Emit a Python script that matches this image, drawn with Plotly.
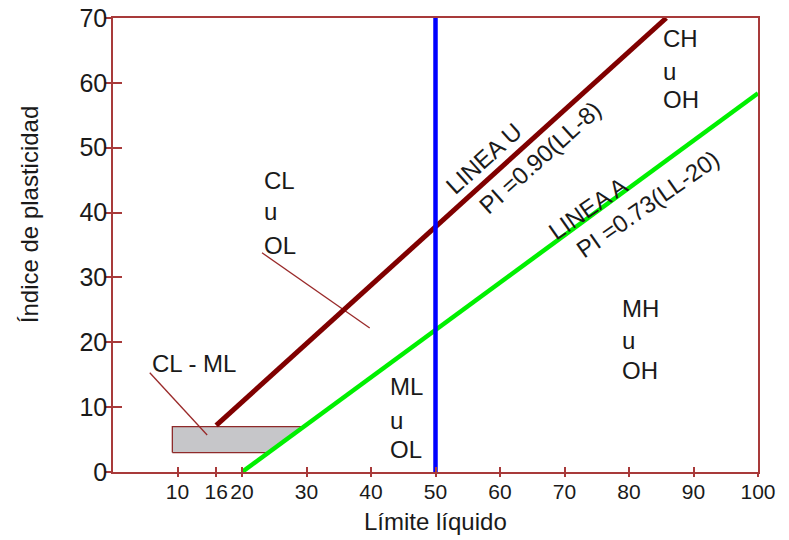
import plotly.graph_objects as go

# ---- data ----
ll_ticks = [10, 16, 20, 30, 40, 50, 60, 70, 80, 90, 100]
pi_ticks = [0, 10, 20, 30, 40, 50, 60, 70]

U_SLOPE, U_OFFSET = 0.90, 8      # Linea U: PI = 0.90 (LL - 8)
A_SLOPE, A_OFFSET = 0.73, 20     # Linea A: PI = 0.73 (LL - 20)
u_ll = [16, U_OFFSET + 70 / U_SLOPE]
u_pi = [U_SLOPE * (v - U_OFFSET) for v in u_ll]
a_ll = [20, 100]
a_pi = [A_SLOPE * (v - A_OFFSET) for v in a_ll]
ll_limit = [50, 50]
pi_limit = [0, 70]

clml_ll_left = 9.2
clml_pi = [3, 7]
clml_x = [clml_ll_left, clml_ll_left,
          A_OFFSET + clml_pi[1] / A_SLOPE, A_OFFSET + clml_pi[0] / A_SLOPE,
          clml_ll_left]
clml_y = [clml_pi[0], clml_pi[1], clml_pi[1], clml_pi[0], clml_pi[0]]

pointer_cl_x = [23.1, 39.8]
pointer_cl_y = [33.8, 22.2]
pointer_clml_x = [5.7, 14.6]
pointer_clml_y = [15.3, 5.7]

FONT = "Liberation Sans, Arial, sans-serif"
TXT = "#1a1a1a"
BORDER = "#a83a3a"

fig = go.Figure()
fig.add_trace(go.Scatter(x=clml_x, y=clml_y, mode="lines", fill="toself",
                         fillcolor="#c6c6c9", line=dict(color="#8e2a2a", width=1.3),
                         hoverinfo="skip", showlegend=False))
fig.add_trace(go.Scatter(x=pointer_cl_x, y=pointer_cl_y, mode="lines",
                         line=dict(color="#9a2a2a", width=1.3), showlegend=False))
fig.add_trace(go.Scatter(x=pointer_clml_x, y=pointer_clml_y, mode="lines",
                         line=dict(color="#9a2a2a", width=1.3), showlegend=False))
fig.add_trace(go.Scatter(x=u_ll, y=u_pi, mode="lines",
                         line=dict(color="#800000", width=5), showlegend=False))
fig.add_trace(go.Scatter(x=a_ll, y=a_pi, mode="lines",
                         line=dict(color="#00f000", width=4.5), showlegend=False))
fig.add_trace(go.Scatter(x=ll_limit, y=pi_limit, mode="lines",
                         line=dict(color="#0000ff", width=4.5), showlegend=False))

ann = []
LBL = 24
def label(x, y, text, size=LBL):
    ann.append(dict(x=x, y=y, xref="x", yref="y", text=text, showarrow=False,
                    xanchor="left", yanchor="middle",
                    font=dict(family=FONT, size=size, color=TXT)))

for t, yy in zip(["CL", "u", "OL"], [45.0, 40.1, 35.0]):
    label(23.1, yy, t)
for t, yy in zip(["CH", "u", "OH"], [66.9, 61.8, 57.4]):
    label(85.0, yy, t)
for t, yy in zip(["MH", "u", "OH"], [25.2, 20.3, 15.7]):
    label(78.6, yy, t)
for t, yy in zip(["ML", "u", "OL"], [13.2, 8.0, 3.4]):
    label(42.6, yy, t)
label(5.7, 16.8, "CL - ML")

def rot(x, y, text, ang):
    ann.append(dict(x=x, y=y, xref="x", yref="y", text=text, showarrow=False,
                    textangle=ang, xanchor="center", yanchor="middle",
                    font=dict(family=FONT, size=LBL, color=TXT)))

rot(57.5, 48.3, "LINEA U", -42)
rot(66.2, 48.5, "PI =0.90(LL-8)", -42)
rot(73.6, 40.7, "LINEA A", -35)
rot(82.8, 41.3, "PI =0.73(LL-20)", -35)

ann.append(dict(x=0.5, y=-0.110, xref="paper", yref="paper", text="Límite líquido",
                showarrow=False, xanchor="center", yanchor="middle",
                font=dict(family=FONT, size=24, color=TXT)))
ann.append(dict(x=-0.130, y=0.566, xref="paper", yref="paper",
                text="Índice de plasticidad", textangle=-90,
                showarrow=False, xanchor="center", yanchor="middle",
                font=dict(family=FONT, size=24, color=TXT)))

axis_common = dict(showgrid=False, zeroline=False, linecolor=BORDER, linewidth=1.5,
                   tickcolor=BORDER, tickwidth=1.5, automargin=False, tickangle=0)

fig.update_layout(
    width=789, height=540,
    margin=dict(l=113, r=31, t=18, b=68),
    paper_bgcolor="white", plot_bgcolor="white",
    showlegend=False,
    annotations=ann,
    xaxis=dict(range=[0, 100], tickmode="array", tickvals=ll_ticks,
               ticktext=[str(v) for v in ll_ticks], ticks="outside", ticklen=3,
               ticklabelstandoff=-3,
               tickfont=dict(family=FONT, size=21, color=TXT),
               showline=True, mirror=True, **axis_common),
    yaxis=dict(range=[0, 70], tickmode="array", tickvals=pi_ticks,
               ticktext=[str(v) for v in pi_ticks], ticks="outside", ticklen=6,
               ticklabelstandoff=-7,
               tickfont=dict(family=FONT, size=25, color=TXT),
               showline=True, mirror=True, **axis_common),
    xaxis2=dict(range=[0, 100], overlaying="x", anchor="y", side="bottom",
                tickmode="array", tickvals=ll_ticks, ticks="inside", ticklen=5,
                showticklabels=False, showgrid=False, zeroline=False,
                showline=False, tickcolor=BORDER, tickwidth=1.5, automargin=False),
    yaxis2=dict(range=[0, 70], overlaying="y", anchor="x", side="left",
                tickmode="array", tickvals=pi_ticks, ticks="inside", ticklen=9,
                showticklabels=False, showgrid=False, zeroline=False,
                showline=False, tickcolor=BORDER, tickwidth=1.5, automargin=False),
)
fig.add_trace(go.Scatter(x=[None], y=[None], xaxis="x2", yaxis="y2",
                         showlegend=False, hoverinfo="skip"))

# remove the browser's default 8px body margin so the figure fills the window
fig.write_html("out.html", config={"displayModeBar": False},
               post_script="document.body.style.margin='0';document.body.style.overflow='hidden';")
